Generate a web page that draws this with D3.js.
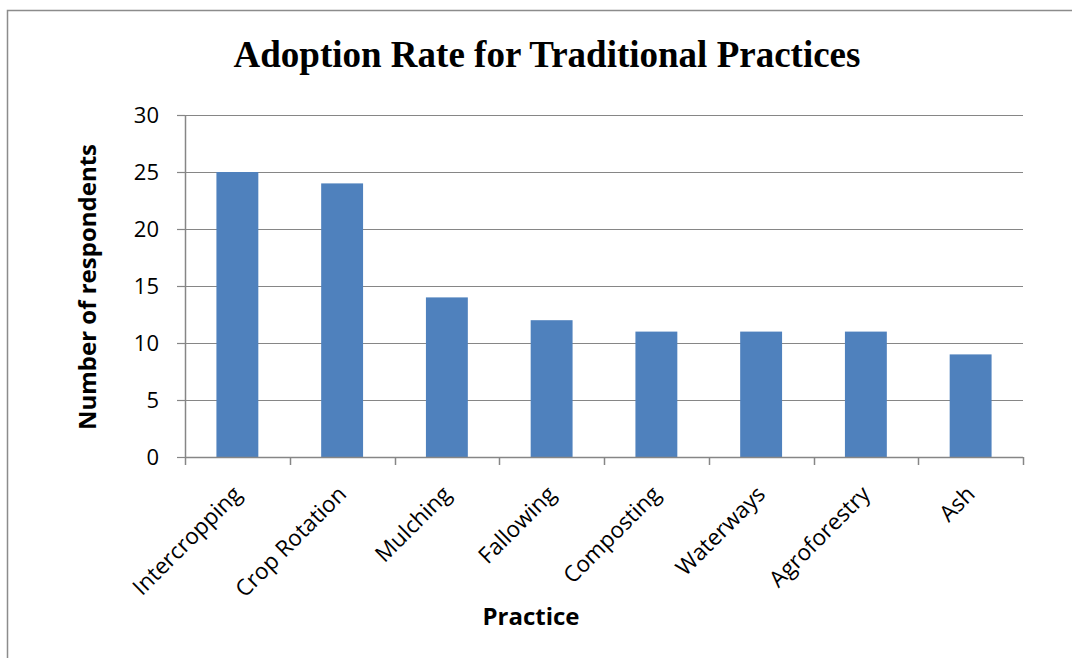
<!DOCTYPE html>
<html>
<head>
  <meta charset="utf-8" />
  <title>Adoption Rate for Traditional Practices</title>
  <script src="https://d3js.org/d3.v7.min.js"></script>
  <style>
    html, body { margin: 0; padding: 0; background: #fff; }
    svg { display: block; }
    .tick text { font-family: "Open Sans", sans-serif; fill: #000; }
  </style>
</head>
<body>
<div id="chart"></div>
<script>
  // Data
  const practices = ["Intercropping", "Crop Rotation", "Mulching", "Fallowing",
                     "Composting", "Waterways", "Agroforestry", "Ash"];
  const respondents = [25, 24, 14, 12, 11, 11, 11, 9];
  const yTicks = [0, 5, 10, 15, 20, 25, 30];

  const width = 1072, height = 658;
  const margin = { top: 115, right: 49, bottom: 201, left: 185 };
  const innerW = width - margin.left - margin.right;
  const innerH = height - margin.top - margin.bottom;

  const svg = d3.select('#chart').append('svg')
    .attr('width', width)
    .attr('height', height);

  // outer chart frame (runs off the right and bottom edge)
  svg.append('rect')
    .attr('x', 7.5).attr('y', 10.5)
    .attr('width', 1100).attr('height', 700)
    .attr('fill', 'none')
    .attr('stroke', '#8c8c8c')
    .attr('stroke-width', 1.5);

  const g = svg.append('g').attr('transform', `translate(${margin.left},${margin.top})`);

  const x = d3.scaleBand().domain(practices).range([0, innerW])
    .paddingInner(0.6).paddingOuter(0.3);
  const y = d3.scaleLinear().domain([0, 30]).range([innerH, 0]);

  // gridlines
  g.append('g').selectAll('line')
    .data(yTicks.filter(d => d > 0))
    .join('line')
    .attr('x1', 0).attr('x2', innerW)
    .attr('y1', d => Math.round(y(d)) + 0.5).attr('y2', d => Math.round(y(d)) + 0.5)
    .attr('stroke', '#868686')
    .attr('stroke-width', 1.2);

  // bars
  g.append('g').selectAll('rect')
    .data(respondents)
    .join('rect')
    .attr('x', (d, i) => x(practices[i]))
    .attr('y', d => y(d))
    .attr('width', x.bandwidth())
    .attr('height', d => innerH - y(d))
    .attr('fill', '#4f81bd');

  // y axis
  const yAxis = g.append('g')
    .call(d3.axisLeft(y).tickValues(yTicks).tickSize(8).tickPadding(18).tickSizeOuter(0));
  yAxis.select('.domain').attr('stroke', '#868686').attr('stroke-width', 1.5);
  yAxis.selectAll('.tick line').attr('stroke', '#868686').attr('stroke-width', 1.2);
  yAxis.selectAll('.tick text').style('font-size', '22px');

  // x axis: ticks at band boundaries
  const step = x.step();
  const bounds = d3.range(practices.length + 1).map(i => i * step);
  const xAxisG = g.append('g').attr('transform', `translate(0,${innerH})`);
  xAxisG.append('line')
    .attr('x1', 0).attr('x2', innerW)
    .attr('y1', 0.5).attr('y2', 0.5)
    .attr('stroke', '#868686').attr('stroke-width', 1.5);
  xAxisG.selectAll('.bt')
    .data(bounds)
    .join('line')
    .attr('class', 'bt')
    .attr('x1', d => Math.round(d) + 0.5).attr('x2', d => Math.round(d) + 0.5)
    .attr('y1', 0).attr('y2', 8)
    .attr('stroke', '#868686').attr('stroke-width', 1.5);

  xAxisG.selectAll('.lbl')
    .data(practices)
    .join('text')
    .attr('class', 'lbl')
    .attr('transform', d => `translate(${x(d) + x.bandwidth() / 2},${33}) rotate(-45)`)
    .attr('text-anchor', 'end')
    .attr('dy', '0.35em')
    .style('font-family', '"Open Sans", sans-serif')
    .style('font-size', '22.5px')
    .text(d => d);

  // title
  svg.append('text')
    .attr('x', 547).attr('y', 67)
    .attr('text-anchor', 'middle')
    .style('font-family', '"Liberation Serif", "Times New Roman", serif')
    .style('font-weight', 'bold')
    .style('font-size', '37px')
    .text('Adoption Rate for Traditional Practices');

  // axis titles
  svg.append('text')
    .attr('transform', `translate(96,287) rotate(-90)`)
    .attr('text-anchor', 'middle')
    .style('font-family', '"Open Sans", sans-serif')
    .style('font-weight', 'bold')
    .style('font-size', '24px')
    .text('Number of respondents');

  svg.append('text')
    .attr('x', 531).attr('y', 625)
    .attr('text-anchor', 'middle')
    .style('font-family', '"Open Sans", sans-serif')
    .style('font-weight', 'bold')
    .style('font-size', '24px')
    .text('Practice');
</script>
</body>
</html>
